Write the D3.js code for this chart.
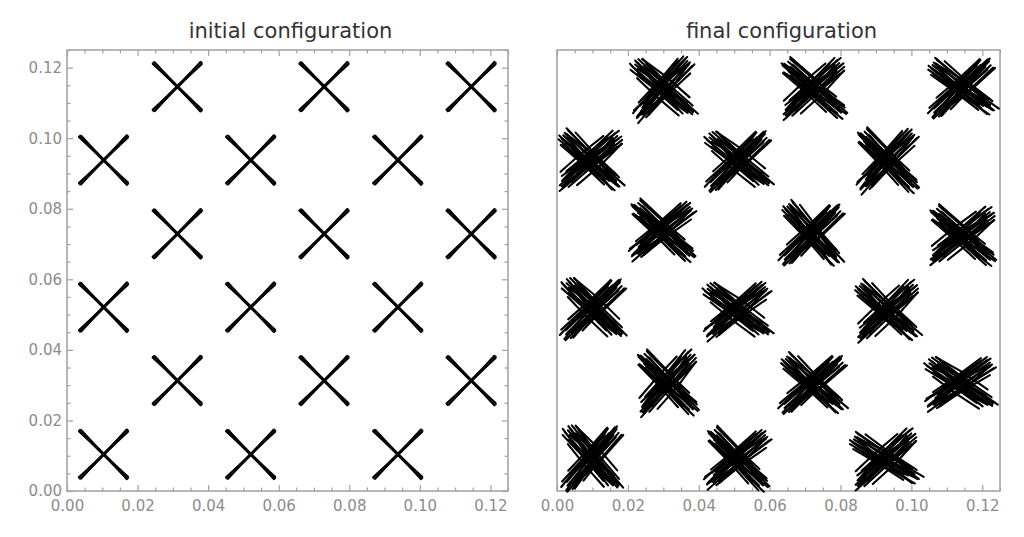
<!DOCTYPE html>
<html>
<head>
<meta charset="utf-8">
<script src="https://d3js.org/d3.v7.min.js"></script>
<style>
body { margin: 0; background: #fff; }
svg { display: block; }
</style>
</head>
<body>
<script>
// Chart size
const W = 1024, H = 537;

// Axis data
const domainMax = 0.125;
const majorTicks = [0, 0.02, 0.04, 0.06, 0.08, 0.10, 0.12];
const tickLabels = ["0.00", "0.02", "0.04", "0.06", "0.08", "0.10", "0.12"];
const titles = ["initial configuration", "final configuration"];

// Initial configuration: cross centres
const initX = [0.0104, 0.0521, 0.0938, 0.0313, 0.0729, 0.1146,
               0.0104, 0.0521, 0.0938, 0.0313, 0.0729, 0.1146,
               0.0104, 0.0521, 0.0938, 0.0313, 0.0729, 0.1146];
const initY = [0.0104, 0.0104, 0.0104, 0.0313, 0.0313, 0.0313,
               0.0521, 0.0521, 0.0521, 0.0729, 0.0729, 0.0729,
               0.0938, 0.0938, 0.0938, 0.1146, 0.1146, 0.1146];
// fibres of one arm: [angle offset deg, perp offset, shift along, half length, bend] (x1e-3)
const initFibres = [[0, 0.2, 0, 9.7, 0], [0, -0.2, 0, 9.7, 0],
                    [2.5, 0, 0.1, 9.5, 0], [-2.5, 0, -0.1, 9.5, 0]];

// Final configuration: cross centres, arm angles, which bundle each arm uses
const finalX = [0.0299, 0.0722, 0.1142, 0.0093, 0.0511, 0.0931,
                0.0296, 0.0719, 0.1142, 0.0102, 0.0508, 0.0931,
                0.0310, 0.0722, 0.1137, 0.0099, 0.0508, 0.0925];
const finalY = [0.1142, 0.1142, 0.1145, 0.0938, 0.0938, 0.0938,
                0.0739, 0.0730, 0.0725, 0.0518, 0.0512, 0.0512,
                0.0308, 0.0305, 0.0305, 0.0095, 0.0092, 0.0092];
const finalAngA = [48, 42, 44, 40, 45, 47, 40, 45, 38, 45, 40, 43, 48, 42, 35, 50, 40, 42];
const finalAngB = [138, 140, 143, 137, 140, 135, 138, 132, 140, 135, 142, 138, 135, 138, 145, 130, 135, 148];
const finalBundleA = [0, 1, 2, 1, 2, 0, 0, 2, 1, 2, 0, 1, 1, 2, 0, 2, 0, 1];
const finalBundleB = [1, 2, 0, 0, 1, 2, 2, 0, 2, 1, 1, 0, 2, 0, 1, 1, 2, 0];

const bundle0 = [[0, 0.0, 0.0, 10.3, 0.3], [2, 0.5, 0.6, 9.7, -0.3], [-2, -0.6, -0.7, 10.5, 0.2],
  [3.5, 1.1, 1.3, 9.3, 0.3], [-4, -1.2, 0.4, 9.9, -0.4], [1, 1.7, -1.1, 9.8, 0.2],
  [-1.5, -1.8, 1.5, 9.5, 0.3], [6, 0.2, -0.5, 8.9, -0.3], [-7, 0.5, 0.9, 9.1, 0.4],
  [0.5, 2.4, 0.7, 8.3, -0.2], [-3, -2.5, -0.4, 8.8, 0.3], [2.5, -0.9, -1.7, 10.4, -0.2],
  [-0.5, 0.9, 2.1, 9.0, 0.2], [4, -1.5, 1.0, 9.4, -0.4], [1.5, 0.3, -2.2, 8.7, 0.2],
  [-2.5, 1.4, -0.2, 10.1, -0.3]];
const bundle1 = [[0.5, 0.2, 0.3, 10.0, -0.2], [-1.5, -0.3, -0.5, 10.6, 0.3], [2.5, 0.8, 1.0, 9.5, 0.2],
  [-3, -0.9, 0.6, 10.1, -0.3], [4.5, 1.3, -0.8, 9.0, 0.4], [-4.5, -1.4, -1.2, 9.6, 0.2],
  [1.5, 2.0, 1.6, 8.7, -0.3], [-1, -2.1, 0.2, 9.7, 0.3], [7.5, -0.4, 0.5, 8.5, -0.2],
  [-6, 0.7, -0.3, 8.8, 0.3], [0, 2.8, -0.6, 7.9, 0.2], [3, -2.7, 1.1, 8.6, -0.4],
  [-2, 1.5, 2.3, 9.2, 0.3], [1, -1.0, -2.0, 10.2, -0.2], [-3.5, 0.1, 1.8, 9.3, 0.2],
  [2, -0.6, -1.0, 9.8, 0.3]];
const bundle2 = [[-0.5, 0.1, -0.2, 10.4, 0.2], [1.5, -0.4, 0.7, 9.9, -0.3], [-2.5, 0.6, 0.3, 10.2, 0.3],
  [3, -1.0, -0.9, 9.6, 0.2], [-3.5, 1.2, 1.4, 9.3, -0.3], [2, -1.6, 0.1, 10.0, 0.4],
  [-1, 1.9, -1.3, 9.4, -0.2], [6.5, 0.8, 0.6, 8.7, 0.3], [-5, -0.7, -0.6, 9.0, -0.3],
  [0.5, -2.3, 1.8, 8.4, 0.2], [-2, 2.5, 0.9, 8.2, -0.2], [3.5, 0.3, -1.8, 10.1, 0.3],
  [-4, -1.9, 2.0, 8.7, -0.4], [0, 1.3, -2.4, 9.6, 0.2], [2.5, -0.2, 2.2, 9.1, -0.2],
  [-1.5, -1.2, -1.6, 10.3, 0.3]];
const bundles = [bundle0, bundle1, bundle2];

// Layout
const plotTop = 50, plotSize = 441;
const panels = [
  { left: 67,  width: 441, yLabels: true,  sideTicks: true },
  { left: 557, width: 443, yLabels: false, sideTicks: false }
];

const svg = d3.select("body").append("svg")
  .attr("width", W).attr("height", H);

// turn one fibre spec into a 3-point polyline in data coordinates
function fibrePoints(cx, cy, armDeg, f) {
  const t = (armDeg + f[0]) * Math.PI / 180;
  const ux = Math.cos(t), uy = Math.sin(t), nx = -uy, ny = ux;
  const s = f[2] / 1000, h = f[3] / 1000, p = f[1] / 1000, b = f[4] / 1000;
  return [
    [cx + ux * (s - h) + nx * p, cy + uy * (s - h) + ny * p],
    [cx + ux * s + nx * (p + b), cy + uy * s + ny * (p + b)],
    [cx + ux * (s + h) + nx * p, cy + uy * (s + h) + ny * p]
  ];
}

panels.forEach((pn, i) => {
  const x = d3.scaleLinear().domain([0, domainMax]).range([pn.left, pn.left + pn.width]);
  const y = d3.scaleLinear().domain([0, domainMax]).range([plotTop + plotSize, plotTop]);
  const minor = x.ticks(25).filter(v => !majorTicks.some(m => Math.abs(m - v) < 1e-9));
  const fmt = (d, k) => tickLabels[k];
  const g = svg.append("g");

  // frame
  g.append("rect")
    .attr("x", pn.left).attr("y", plotTop)
    .attr("width", pn.width).attr("height", plotSize)
    .attr("fill", "none").attr("stroke", "#a0a0a0").attr("stroke-width", 1.5);

  function axisGroup(axis, tx, ty) {
    const a = g.append("g").attr("transform", `translate(${tx},${ty})`).call(axis);
    a.select(".domain").remove();
    a.selectAll("line").attr("stroke", "#a0a0a0").attr("stroke-width", 1.2);
    a.selectAll("text").attr("fill", "#8c8c8c")
      .style("font-family", "'DejaVu Sans', sans-serif").style("font-size", "15px");
    return a;
  }

  const bottom = plotTop + plotSize;
  // bottom axis with labels
  axisGroup(d3.axisBottom(x).tickValues(majorTicks).tickFormat(fmt).tickSize(-6).tickPadding(9), 0, bottom);
  axisGroup(d3.axisBottom(x).tickValues(minor).tickFormat("").tickSize(-3.5), 0, bottom);
  // top ticks
  axisGroup(d3.axisTop(x).tickValues(majorTicks).tickFormat("").tickSize(-6), 0, plotTop);
  axisGroup(d3.axisTop(x).tickValues(minor).tickFormat("").tickSize(-3.5), 0, plotTop);

  if (pn.yLabels) {
    axisGroup(d3.axisLeft(y).tickValues(majorTicks).tickFormat(fmt).tickSize(-6).tickPadding(5), pn.left, 0);
    axisGroup(d3.axisLeft(y).tickValues(minor).tickFormat("").tickSize(-3.5), pn.left, 0);
  }
  if (pn.sideTicks) {
    axisGroup(d3.axisRight(y).tickValues(majorTicks).tickFormat("").tickSize(-6), pn.left + pn.width, 0);
    axisGroup(d3.axisRight(y).tickValues(minor).tickFormat("").tickSize(-3.5), pn.left + pn.width, 0);
  }

  // title
  g.append("text")
    .attr("x", pn.left + pn.width / 2 + 3).attr("y", 38)
    .attr("text-anchor", "middle")
    .attr("fill", "#333")
    .style("font-family", "'DejaVu Sans', sans-serif").style("font-size", "21px")
    .text(titles[i]);

  const line = d3.line().x(d => x(d[0])).y(d => y(d[1]));
  const fibres = [];
  if (i === 0) {
    initX.forEach((cx, k) => {
      [45, 135].forEach(a => initFibres.forEach(f => fibres.push(fibrePoints(cx, initY[k], a, f))));
    });
  } else {
    finalX.forEach((cx, k) => {
      bundles[finalBundleA[k]].forEach(f => fibres.push(fibrePoints(cx, finalY[k], finalAngA[k], f)));
      bundles[finalBundleB[k]].forEach(f => fibres.push(fibrePoints(cx, finalY[k], finalAngB[k], f)));
    });
  }
  g.append("g").selectAll("path").data(fibres).join("path")
    .attr("d", line)
    .attr("fill", "none")
    .attr("stroke", "#000")
    .attr("stroke-width", i === 0 ? 1.7 : 2.1)
    .attr("stroke-linecap", "round");
});
</script>
</body>
</html>
